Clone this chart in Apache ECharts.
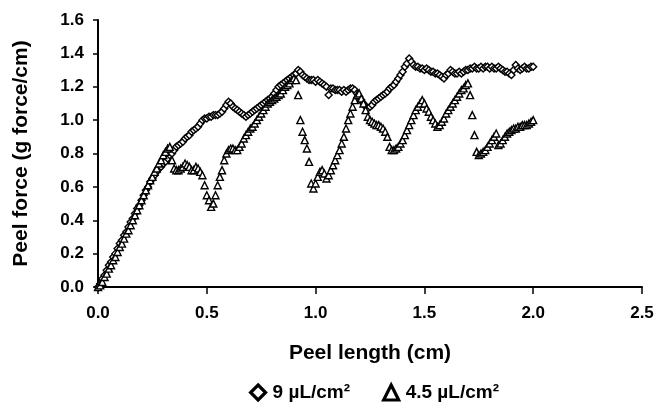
<!DOCTYPE html>
<html>
<head>
<meta charset="utf-8">
<script src="https://cdn.jsdelivr.net/npm/echarts@6/dist/echarts.min.js"></script>
<style>html,body{margin:0;padding:0;background:#fff}#c{width:657px;height:407px}</style>
</head>
<body>
<div id="c"></div>
<script>
const peelLength = [
0.00,0.01,0.02,0.03,0.04,0.05,0.06,0.07,0.08,0.09,
0.10,0.11,0.12,0.13,0.14,0.15,0.16,0.17,0.18,0.19,
0.20,0.21,0.22,0.23,0.24,0.25,0.26,0.27,0.28,0.29,
0.30,0.31,0.32,0.33,0.34,0.35,0.36,0.37,0.38,0.39,
0.40,0.41,0.42,0.43,0.44,0.45,0.46,0.47,0.48,0.49,
0.50,0.51,0.52,0.53,0.54,0.55,0.56,0.57,0.58,0.59,
0.60,0.61,0.62,0.63,0.64,0.65,0.66,0.67,0.68,0.69,
0.70,0.71,0.72,0.73,0.74,0.75,0.76,0.77,0.78,0.79,
0.80,0.81,0.82,0.83,0.84,0.85,0.86,0.87,0.88,0.89,
0.90,0.91,0.92,0.93,0.94,0.95,0.96,0.97,0.98,0.99,
1.00,1.01,1.02,1.03,1.04,1.05,1.06,1.07,1.08,1.09,
1.10,1.11,1.12,1.13,1.14,1.15,1.16,1.17,1.18,1.19,
1.20,1.21,1.22,1.23,1.24,1.25,1.26,1.27,1.28,1.29,
1.30,1.31,1.32,1.33,1.34,1.35,1.36,1.37,1.38,1.39,
1.40,1.41,1.42,1.43,1.44,1.45,1.46,1.47,1.48,1.49,
1.50,1.51,1.52,1.53,1.54,1.55,1.56,1.57,1.58,1.59,
1.60,1.61,1.62,1.63,1.64,1.65,1.66,1.67,1.68,1.69,
1.70,1.71,1.72,1.73,1.74,1.75,1.76,1.77,1.78,1.79,
1.80,1.81,1.82,1.83,1.84,1.85,1.86,1.87,1.88,1.89,
1.90,1.91,1.92,1.93,1.94,1.95,1.96,1.97,1.98,1.99,
2.00];

// 9 µL/cm² (diamonds)
const force9 = [
0.00,0.02,0.05,0.07,0.10,0.13,0.15,0.18,0.20,0.23,
0.26,0.28,0.31,0.33,0.36,0.39,0.41,0.44,0.47,0.49,
0.52,0.55,0.58,0.60,0.63,0.65,0.67,0.69,0.71,0.72,
0.74,0.75,0.77,0.79,0.80,0.82,0.84,0.85,0.86,0.87,
0.89,0.90,0.91,0.93,0.94,0.95,0.96,0.98,1.00,1.01,
1.01,1.02,1.02,1.03,1.03,1.03,1.04,1.05,1.07,1.09,
1.11,1.10,1.08,1.07,1.06,1.05,1.04,1.03,1.02,1.03,
1.04,1.05,1.06,1.07,1.08,1.09,1.10,1.11,1.12,1.13,
1.14,1.16,1.18,1.20,1.21,1.22,1.23,1.24,1.25,1.26,
1.27,1.28,1.30,1.29,1.27,1.26,1.25,1.24,1.24,1.24,
1.23,1.24,1.23,1.22,1.21,1.20,1.15,1.19,1.19,1.18,
1.18,1.18,1.17,1.18,1.17,1.18,1.19,1.19,1.18,1.16,
1.14,1.12,1.10,1.08,1.07,1.08,1.09,1.11,1.12,1.13,
1.14,1.15,1.16,1.17,1.19,1.20,1.21,1.23,1.25,1.27,
1.29,1.32,1.34,1.37,1.35,1.33,1.32,1.32,1.31,1.31,
1.30,1.31,1.30,1.29,1.29,1.28,1.28,1.27,1.26,1.25,
1.27,1.28,1.30,1.29,1.28,1.28,1.29,1.28,1.29,1.30,
1.30,1.31,1.31,1.32,1.31,1.31,1.32,1.31,1.32,1.32,
1.31,1.32,1.31,1.31,1.32,1.31,1.30,1.29,1.29,1.28,
1.27,1.30,1.33,1.31,1.30,1.31,1.32,1.31,1.31,1.32,
1.32];

// 4.5 µL/cm² (triangles)
const force45 = [
0.00,0.01,0.03,0.06,0.08,0.11,0.13,0.16,0.18,0.21,
0.24,0.26,0.29,0.32,0.34,0.37,0.40,0.43,0.46,0.49,
0.52,0.55,0.58,0.61,0.64,0.66,0.69,0.71,0.74,0.76,
0.79,0.81,0.83,0.84,0.76,0.71,0.70,0.70,0.71,0.72,
0.74,0.73,0.72,0.70,0.70,0.72,0.71,0.69,0.67,0.61,
0.55,0.52,0.48,0.50,0.55,0.61,0.66,0.70,0.76,0.80,
0.82,0.83,0.83,0.82,0.82,0.84,0.86,0.89,0.91,0.93,
0.95,0.96,0.98,1.00,1.02,1.04,1.06,1.08,1.10,1.11,
1.12,1.13,1.14,1.15,1.16,1.18,1.20,1.21,1.22,1.24,
1.25,1.24,1.15,1.00,0.93,0.88,0.83,0.75,0.62,0.59,
0.62,0.66,0.69,0.70,0.68,0.65,0.67,0.70,0.73,0.76,
0.79,0.82,0.86,0.90,0.95,1.00,1.04,1.08,1.12,1.15,
1.16,1.13,1.10,1.06,1.02,1.00,0.99,0.98,0.97,0.97,
0.96,0.95,0.93,0.90,0.84,0.82,0.82,0.83,0.84,0.86,
0.88,0.91,0.94,0.97,1.00,1.03,1.06,1.08,1.10,1.12,
1.10,1.07,1.05,1.02,1.00,0.98,0.96,0.97,0.99,1.01,
1.04,1.06,1.08,1.10,1.12,1.14,1.16,1.18,1.19,1.21,
1.22,1.15,1.03,0.91,0.81,0.79,0.80,0.81,0.82,0.84,
0.86,0.88,0.90,0.92,0.85,0.86,0.88,0.90,0.92,0.93,
0.94,0.95,0.95,0.96,0.96,0.97,0.97,0.97,0.98,0.99,
1.00];

const xTicks = ['0.0','0.5','1.0','1.5','2.0','2.5'];
const yTicks = ['0.0','0.2','0.4','0.6','0.8','1.0','1.2','1.4','1.6'];
const seriesNames = ['9 µL/cm²', '4.5 µL/cm²'];

function pairs(xs, ys) { return ys.map((y, i) => [xs[i], y]); }

const FONT = 'Liberation Sans, Arial, sans-serif';
const chart = echarts.init(document.getElementById('c'), null, {renderer: 'canvas'});
chart.setOption({
  animation: false,
  backgroundColor: '#fff',
  grid: {left: 98, right: 15, top: 20, bottom: 120, containLabel: false},
  xAxis: {
    type: 'value', min: 0, max: 2.5, interval: 0.5,
    name: 'Peel length (cm)', nameLocation: 'middle', nameGap: 56,
    nameTextStyle: {fontFamily: FONT, fontSize: 21, fontWeight: 'bold', color: '#000'},
    axisLine: {show: true, lineStyle: {color: '#000', width: 2}},
    axisTick: {show: true, inside: false, length: 7, lineStyle: {color: '#000', width: 1.5}},
    axisLabel: {formatter: v => xTicks[Math.round(v / 0.5)], fontFamily: FONT, fontSize: 17, fontWeight: 'bold', color: '#000', margin: 18},
    splitLine: {show: false}
  },
  yAxis: {
    type: 'value', min: 0, max: 1.6, interval: 0.2,
    name: 'Peel force (g force/cm)', nameLocation: 'middle', nameGap: 66,
    nameTextStyle: {fontFamily: FONT, fontSize: 21, fontWeight: 'bold', color: '#000'},
    axisLine: {show: true, onZero: false, lineStyle: {color: '#000', width: 2}},
    axisTick: {show: true, inside: false, length: 5, lineStyle: {color: '#000', width: 1.5}},
    axisLabel: {formatter: v => yTicks[Math.round(v / 0.2)], fontFamily: FONT, fontSize: 17, fontWeight: 'bold', color: '#000', margin: 14},
    splitLine: {show: false}
  },
  legend: {
    bottom: 0, left: 244, itemGap: 32, itemWidth: 15, itemHeight: 15,
    data: seriesNames,
    textStyle: {fontFamily: FONT, fontSize: 19, fontWeight: 'bold', color: '#000', padding: [0, 0, 0, 2]},
    itemStyle: {borderWidth: 3.2}
  },
  series: [
    {
      name: seriesNames[0], type: 'scatter', symbol: 'diamond', symbolSize: 7,
      itemStyle: {color: '#fff', borderColor: '#000', borderWidth: 1.4, opacity: 1},
      data: pairs(peelLength, force9), z: 2
    },
    {
      name: seriesNames[1], type: 'scatter', symbol: 'triangle', symbolSize: 7,
      itemStyle: {color: '#fff', borderColor: '#000', borderWidth: 1.4, opacity: 1},
      data: pairs(peelLength, force45), z: 3
    }
  ]
});
</script>
</body>
</html>
